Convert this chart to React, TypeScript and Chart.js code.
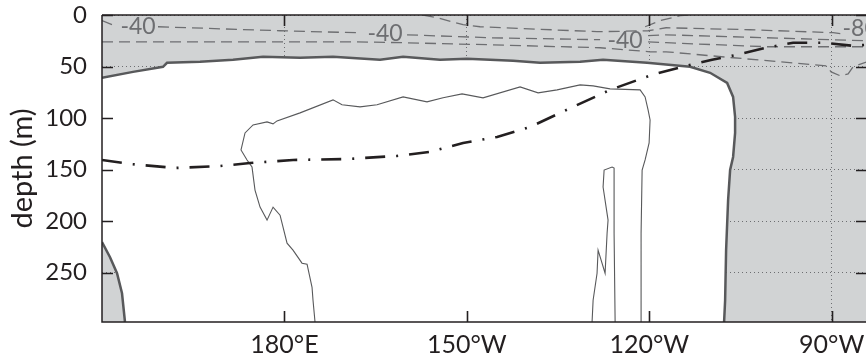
import React, { useEffect, useRef } from "react";
import { Chart, registerables } from "chart.js";

Chart.register(...registerables);

// ---- axes ----
const X_MIN = 150;
const X_MAX = 275.8;
const Y_MIN = 0;
const Y_MAX = 298;
const xTickValues = [180, 210, 240, 270];
const xTickLabels = ["180°E", "150°W", "120°W", "90°W"];
const yTickValues = [0, 50, 100, 150, 200, 250];

// ---- thick contour: top band + eastern wall (lon °E, depth m) ----
const mainLon = [150.0, 155.1, 160.03, 160.69, 166.12, 171.55, 176.48, 182.57, 187.99, 195.72, 199.51, 205.59, 210.03, 217.6, 222.04, 228.62, 232.4, 239.64, 246.71, 250.0, 252.8, 253.78, 254.11, 254.11, 253.78, 253.29, 252.96, 252.63, 252.47, 252.3];
const mainDepth = [61.0, 55.2, 50.3, 46.4, 45.4, 43.5, 40.6, 41.5, 40.6, 43.5, 40.6, 43.5, 42.5, 44.5, 46.4, 45.4, 43.5, 46.4, 50.3, 56.1, 65.9, 79.5, 99.0, 114.5, 137.8, 150.5, 179.6, 228.3, 276.9, 298];

// ---- thick contour: bottom-left corner ----
const westLon = [150.0, 151.32, 152.47, 153.29, 153.78];
const westDepth = [220.5, 235.1, 250.7, 270.1, 298];

// ---- thin contour: large open shape ----
const bigLon = [185.03, 184.7, 184.54, 183.72, 182.89, 181.41, 180.43, 179.28, 178.13, 177.14, 175.99, 175.16, 174.67, 173.85, 172.86, 173.52, 174.84, 177.14, 178.13, 178.78, 182.57, 187.99, 189.47, 192.43, 195.23, 199.51, 203.45, 206.09, 209.21, 212.66, 218.75, 221.71, 224.84, 228.62, 230.76, 233.55, 238.49, 239.31, 239.8, 240.13, 239.97, 239.31, 238.82, 238.65, 238.65];
const bigDepth = [298, 276.9, 264.3, 241.9, 240.9, 228.3, 221.5, 194.3, 186.5, 199.1, 186.5, 169.9, 147.6, 140.7, 131.0, 114.5, 106.7, 103.8, 105.7, 102.8, 95.0, 82.4, 87.2, 89.2, 87.2, 79.5, 84.3, 80.4, 76.6, 80.4, 69.8, 75.6, 72.7, 67.8, 68.8, 71.7, 72.7, 79.5, 92.1, 101.9, 124.2, 140.7, 150.5, 211.8, 298];

// ---- thin contour: narrow loop ----
const loopLon = [230.59, 230.76, 231.41, 231.58, 232.73, 233.06, 233.22, 232.4, 232.57, 233.88, 234.21, 234.21, 234.38];
const loopDepth = [298, 276.9, 250.7, 228.3, 250.7, 211.8, 199.1, 167.0, 150.5, 147.6, 148.5, 211.8, 298];

// ---- dash-dot line ----
const ddLon = [150.0, 154.61, 162.01, 169.41, 174.34, 181.41, 190.3, 198.52, 203.95, 209.38, 214.97, 220.39, 227.47, 233.55, 240.46, 245.39, 250.33, 254.44, 259.21, 263.65, 268.59, 273.52, 275.8];
const ddDepth = [140.7, 144.6, 148.5, 146.6, 143.7, 140.7, 139.8, 136.8, 132.9, 124.2, 118.4, 108.7, 89.2, 72.7, 58.1, 50.3, 43.5, 38.6, 31.8, 26.9, 26.9, 29.9, 28.9];

// ---- dashed contours (null = gap for a label) ----
const dashALon = [150.0, 151.64, 155.92, 159.21, 179.28, 191.94, 196.55, 200.16, 213.82, 231.91, 236.02, 239.8, 242.76, 259.21, 275.8];
const dashADepth = [5.5, 9.4, null, 11.4, 15.3, 17.2, null, 19.2, 22.1, 24.0, null, 26.0, 26.9, 30.8, 30.8];
const dashBLon = [150.0, 160.69, 182.57, 191.28, 199.51, 213.82, 231.91, 240.13, 242.76, 253.78, 269.08, 269.9, 271.38, 272.7, 273.52, 275.8];
const dashBDepth = [26.0, 26.0, 26.0, 26.0, 26.9, 28.9, 31.8, 35.7, 35.7, 41.5, 49.3, 55.2, 59.0, 57.1, 50.3, 45.4];
const dashCLon = [202.8, 205.1, 209.38, 212.17, 231.41, 239.8, 242.76, 256.58, 270.23, 271.71];
const dashCDepth = [0, 2.6, 9.4, 11.4, 16.2, 15.3, 12.4, 14.3, 17.2, 18.2];
const dashDLon = [239.31, 241.78, 245.07, 246.71];
const dashDDepth = [11.4, 5.5, 0.7, 0];
const dashELon = [239.8, 242.76, 270.23, 275.8];
const dashEDepth = [20.1, 19.2, 24.0, 25.0];

// ---- contour labels ----
const labelLon = [155.92, 196.55, 236.02, 274.67];
const labelDepth = [10.9, 18.2, 25.0, 13.3];
const labelText = ["-40", "-40", "-40", "-80"];

const GRAY = "#d1d3d4";
const DARK = "#58595b";
const MID = "#6d6e71";
const INK = "#231f20";
const FONT = "Lato";

const pts = (lons: number[], deps: (number | null)[]) =>
  lons.map((x, i) => ({ x, y: deps[i] }));

const lineDs = (data: any[], color: string, width: number, dash: number[], order: number) => ({
  data,
  borderColor: color,
  borderWidth: width,
  borderDash: dash,
  pointRadius: 0,
  fill: false,
  tension: 0,
  spanGaps: false,
  order,
});

const framePlugin = {
  id: "frameAndLabels",
  beforeDraw(chart: any) {
    const { ctx, chartArea: a } = chart;
    ctx.save();
    ctx.fillStyle = GRAY;
    ctx.fillRect(a.left, a.top, a.right - a.left, a.bottom - a.top);
    ctx.restore();
  },
  afterDraw(chart: any) {
    const { ctx, chartArea: a, scales } = chart;
    const xs = scales.x;
    const ys = scales.y;
    ctx.save();
    ctx.setLineDash([]);
    ctx.strokeStyle = INK;
    ctx.lineWidth = 1.5;
    ctx.beginPath();
    ctx.moveTo(a.left, a.top);
    ctx.lineTo(a.right, a.top);
    ctx.moveTo(a.left, a.top);
    ctx.lineTo(a.left, a.bottom);
    ctx.lineTo(a.right, a.bottom);
    ctx.stroke();
    // inward ticks
    const TL = 11;
    ctx.lineWidth = 1.6;
    ctx.beginPath();
    xTickValues.forEach((v) => {
      const p = Math.round(xs.getPixelForValue(v)) + 0.5;
      ctx.moveTo(p, a.bottom);
      ctx.lineTo(p, a.bottom - TL);
      ctx.moveTo(p, a.top);
      ctx.lineTo(p, a.top + TL);
    });
    yTickValues.forEach((v) => {
      const p = Math.round(ys.getPixelForValue(v)) + 0.5;
      ctx.moveTo(a.left, p);
      ctx.lineTo(a.left + TL, p);
      ctx.moveTo(a.right, p);
      ctx.lineTo(a.right - TL, p);
    });
    ctx.stroke();
    // contour labels
    ctx.fillStyle = MID;
    ctx.font = `23px ${FONT}`;
    ctx.textAlign = "center";
    ctx.textBaseline = "middle";
    labelText.forEach((t, i) => {
      ctx.fillText(t, xs.getPixelForValue(labelLon[i]), ys.getPixelForValue(labelDepth[i]));
    });
    ctx.restore();
  },
};

export default function App() {
  const ref = useRef<HTMLCanvasElement>(null);

  useEffect(() => {
    const whiteShape = [
      ...pts(mainLon, mainDepth),
      ...pts(westLon, westDepth).reverse(),
    ];
    const chart = new Chart(ref.current as HTMLCanvasElement, {
      type: "line",
      data: {
        datasets: [
          {
            data: whiteShape,
            borderWidth: 0,
            borderColor: "rgba(0,0,0,0)",
            backgroundColor: "#ffffff",
            pointRadius: 0,
            fill: "shape",
            order: 10,
          } as any,
          lineDs(pts(bigLon, bigDepth), DARK, 1.1, [], 6),
          lineDs(pts(loopLon, loopDepth), DARK, 1.1, [], 6),
          lineDs(pts(dashALon, dashADepth), MID, 1.3, [11, 6], 5),
          lineDs(pts(dashBLon, dashBDepth), MID, 1.3, [11, 6], 5),
          lineDs(pts(dashCLon, dashCDepth), MID, 1.3, [11, 6], 5),
          lineDs(pts(dashDLon, dashDDepth), MID, 1.3, [11, 6], 5),
          lineDs(pts(dashELon, dashEDepth), MID, 1.3, [11, 6], 5),
          lineDs(pts(mainLon, mainDepth), DARK, 2.5, [], 3),
          lineDs(pts(westLon, westDepth), DARK, 2.5, [], 3),
          lineDs(pts(ddLon, ddDepth), INK, 2.6, [20, 11, 2, 11], 1),
        ] as any,
      },
      options: {
        animation: false,
        responsive: false,
        devicePixelRatio: 1,
        layout: { padding: { top: 15, right: 1, left: 0, bottom: 0 } },
        plugins: {
          legend: { display: false },
          tooltip: { enabled: false },
        },
        scales: {
          x: {
            type: "linear",
            min: X_MIN,
            max: X_MAX,
            z: 1,
            afterBuildTicks: (s: any) => {
              s.ticks = xTickValues.map((value) => ({ value }));
            },
            afterFit: (s: any) => {
              s.height = 39;
              s.paddingLeft = 0;
              s.paddingRight = 0;
            },
            grid: { color: "#6d6e71", lineWidth: 1, drawTicks: false },
            border: { display: false, dash: [1, 3] },
            ticks: {
              padding: 8,
              autoSkip: false,
              maxRotation: 0,
              color: INK,
              font: { family: FONT, size: 25 },
              callback: (v: any) => xTickLabels[xTickValues.indexOf(Number(v))] ?? "",
            },
          },
          y: {
            type: "linear",
            reverse: true,
            min: Y_MIN,
            max: Y_MAX,
            z: 1,
            afterBuildTicks: (s: any) => {
              s.ticks = yTickValues.map((value) => ({ value }));
            },
            afterFit: (s: any) => {
              s.width = 102;
              s.paddingTop = 0;
              s.paddingBottom = 0;
            },
            grid: { color: "#6d6e71", lineWidth: 1, drawTicks: false },
            border: { display: false, dash: [1, 3] },
            ticks: {
              padding: 15,
              color: INK,
              font: { family: FONT, size: 24 },
              callback: (v: any) => String(v),
            },
            title: {
              display: true,
              text: "depth (m)",
              color: INK,
              font: { family: FONT, size: 29 },
              padding: { top: 5, bottom: 0 },
            },
          },
        },
      } as any,
      plugins: [framePlugin as any],
    });
    return () => chart.destroy();
  }, []);

  return (
    <div
      style={{
        position: "fixed",
        left: 0,
        top: 0,
        width: 866,
        height: 361,
        overflow: "hidden",
        background: "#ffffff",
      }}
    >
      <canvas ref={ref} width={868} height={361} style={{ display: "block", width: 868, height: 361 }} />
    </div>
  );
}
